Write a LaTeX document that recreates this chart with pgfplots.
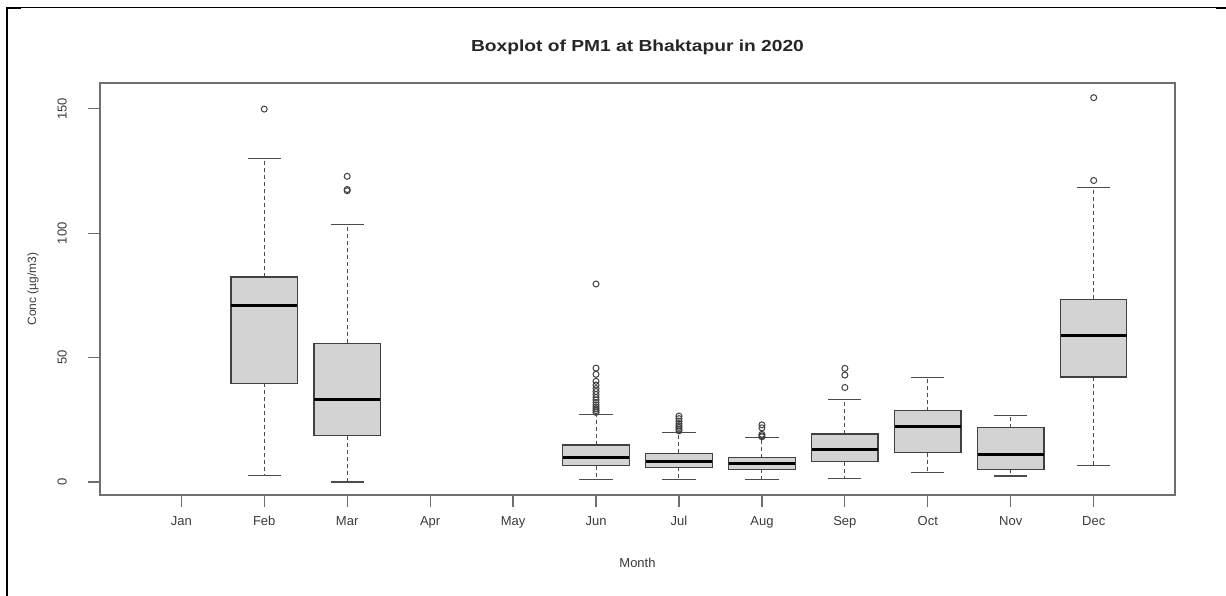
\documentclass[border=0pt]{standalone}
\usepackage{fontspec}
\setmainfont{Liberation Sans}
\usepackage{graphicx}
\usepackage{pgfplots}
\pgfplotsset{compat=1.18}
\usepgfplotslibrary{statistics}

\definecolor{boxfill}{HTML}{D3D3D3}
\definecolor{frame}{HTML}{6E6E6E}
\definecolor{txt}{HTML}{3A3A3A}

\pgfplotsset{
  boxplot/draw/lower whisker/.code={%
    \draw[black!70, line width=1pt, dash pattern=on 4pt off 3pt]
      (boxplot box cs:\pgfplotsboxplotvalue{lower quartile},0.5)
      -- (boxplot box cs:\pgfplotsboxplotvalue{lower whisker},0.5);
    \draw[black!70, line width=1.2pt]
      (boxplot whisker cs:\pgfplotsboxplotvalue{lower whisker},0)
      -- (boxplot whisker cs:\pgfplotsboxplotvalue{lower whisker},1);
  },
  boxplot/draw/upper whisker/.code={%
    \draw[black!70, line width=1pt, dash pattern=on 4pt off 3pt]
      (boxplot box cs:\pgfplotsboxplotvalue{upper quartile},0.5)
      -- (boxplot box cs:\pgfplotsboxplotvalue{upper whisker},0.5);
    \draw[black!70, line width=1.2pt]
      (boxplot whisker cs:\pgfplotsboxplotvalue{upper whisker},0)
      -- (boxplot whisker cs:\pgfplotsboxplotvalue{upper whisker},1);
  },
  bx/.style={
    solid, draw=black!75, line width=1.2pt,
    mark=o, mark size=3pt,
    mark options={draw=black!75, line width=1pt, fill=none},
  },
}

\begin{document}
\begin{tikzpicture}
\path[use as bounding box] (0pt,0pt) rectangle (1226pt,596pt);
% outer frame of the screenshot
\draw[black, line width=1.2pt] (6pt,588.7pt) -- (1226pt,588.7pt);
\draw[black, line width=2.5pt] (7.2pt,589.3pt) -- (7.2pt,0pt);
\draw[black, line width=2pt] (6pt,588.3pt) -- (21pt,588.3pt);
\draw[black, line width=2pt] (1216pt,588.3pt) -- (1226pt,588.3pt);

\begin{axis}[
  at={(100pt,101pt)}, anchor=south west, scale only axis,
  width=1075pt, height=412pt,
  xmin=0.02, xmax=12.98, ymin=-5.2, ymax=160.4,
  boxplot/draw direction=y,
  boxplot/box extend=0.8,
  boxplot/whisker extend=0.4,
  boxplot/every box/.style={fill=boxfill, draw=black!75, line width=1.2pt},
  boxplot/every median/.style={black, line width=3pt},
  xtick={1,...,12},
  xticklabels={Jan,Feb,Mar,Apr,May,Jun,Jul,Aug,Sep,Oct,Nov,Dec},
  ytick={0,50,100,150},
  xtick pos=bottom, ytick pos=left,
  /pgf/number format/assume math mode=true,
  tick align=outside, major tick length=12pt,
  axis line style={frame, line width=1.5pt},
  every tick/.style={frame, line width=1.2pt},
  tick label style={font=\fontsize{13}{15}\selectfont, text=txt},
  yticklabel style={rotate=90, anchor=south, inner sep=2pt, yshift=19pt},
  xticklabel style={anchor=north, yshift=-6pt},
  title={\scalebox{1.2}[1]{\textbf{Boxplot of PM1 at Bhaktapur in 2020}}},
  title style={font=\fontsize{16}{18}\selectfont, text=black!85,
    at={(axis description cs:0.5,1)}, anchor=center, yshift=30pt},
  xlabel={Month},
  xlabel style={font=\fontsize{13}{15}\selectfont, text=txt,
    at={(axis description cs:0.5,0)}, anchor=center, yshift=-68pt},
  ylabel={Conc (µg/m3)},
  ylabel style={font=\fontsize{12}{14}\selectfont, text=txt,
    at={(axis description cs:0,0.5)}, anchor=center, yshift=67pt},
]
% Feb
\addplot[bx, boxplot prepared={draw position=2, lower whisker=2.5,
  lower quartile=39.7, median=70.9, upper quartile=82.4, upper whisker=130}]
  coordinates {(0,149.9)};
% Mar
\addplot[bx, boxplot prepared={draw position=3, lower whisker=0,
  lower quartile=18.6, median=33, upper quartile=55.8, upper whisker=103.6}]
  coordinates {(0,122.9) (0,117.6) (0,117.1)};
% Jun
\addplot[bx, boxplot prepared={draw position=6, lower whisker=1.1,
  lower quartile=6.6, median=9.9, upper quartile=14.9, upper whisker=27.3}]
  coordinates {(0,79.6) (0,45.8) (0,43.3) (0,40.5) (0,39) (0,37.6) (0,36.4)
    (0,35.2) (0,34) (0,33) (0,32) (0,31) (0,30.2) (0,29.4) (0,28.7) (0,28)};
% Jul
\addplot[bx, boxplot prepared={draw position=7, lower whisker=1.1,
  lower quartile=5.9, median=8.3, upper quartile=11.5, upper whisker=20}]
  coordinates {(0,26.5) (0,25.5) (0,24.5) (0,23.5) (0,22.7) (0,22) (0,21.3) (0,20.6)};
% Aug
\addplot[bx, boxplot prepared={draw position=8, lower whisker=1.1,
  lower quartile=5.1, median=7.5, upper quartile=9.8, upper whisker=17.8}]
  coordinates {(0,23) (0,21.8) (0,19.2) (0,18.6) (0,18.2)};
% Sep
\addplot[bx, boxplot prepared={draw position=9, lower whisker=1.5,
  lower quartile=8.2, median=13.1, upper quartile=19.3, upper whisker=33.2}]
  coordinates {(0,45.7) (0,43) (0,38)};
% Oct
\addplot[bx, boxplot prepared={draw position=10, lower whisker=3.9,
  lower quartile=11.8, median=22.4, upper quartile=28.7, upper whisker=42.1}]
  coordinates {};
% Nov
\addplot[bx, boxplot prepared={draw position=11, lower whisker=2.4,
  lower quartile=5.1, median=10.9, upper quartile=21.8, upper whisker=26.9}]
  coordinates {};
% Dec
\addplot[bx, boxplot prepared={draw position=12, lower whisker=6.6,
  lower quartile=42.2, median=59.1, upper quartile=73.5, upper whisker=118.5}]
  coordinates {(0,154.5) (0,121.2)};
\end{axis}
\end{tikzpicture}
\end{document}
